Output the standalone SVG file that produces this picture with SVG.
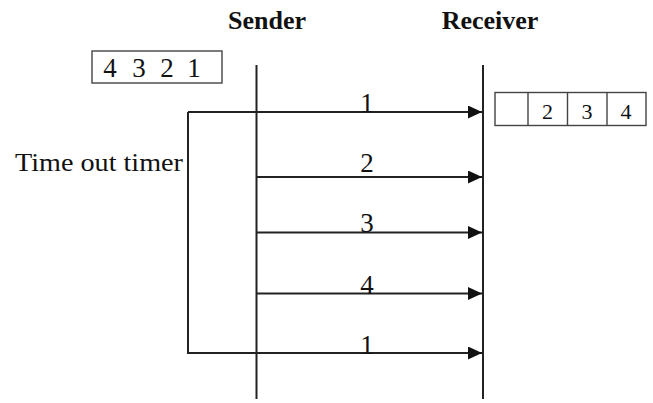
<svg xmlns="http://www.w3.org/2000/svg" width="653" height="403" viewBox="0 0 653 403">
<style>
text{font-family:"Liberation Serif","Times New Roman",serif;fill:#111}
.h{font-weight:bold;font-size:26px}
.n{font-size:27px;text-anchor:middle}
.line{stroke:#222;stroke-width:2;fill:none}
.box{stroke:#444;stroke-width:1.4;fill:#fff}
</style>
<defs>
<marker id="ah" markerWidth="14" markerHeight="13" refX="14" refY="6.5" orient="auto" markerUnits="userSpaceOnUse">
<path d="M0,0 L14,6.5 L0,13 Z" fill="#111"/>
</marker>
</defs>
<g id="sender">
<text class="h" x="267" y="29" text-anchor="middle">Sender</text>
<line class="line" x1="256.5" y1="65" x2="256.5" y2="399"/>
</g>
<g id="receiver">
<text class="h" x="490" y="29" text-anchor="middle">Receiver</text>
<line class="line" x1="483" y1="65" x2="483" y2="399"/>
</g>
<g id="sender-buffer">
<rect class="box" x="92" y="51" width="130" height="32"/>
<text class="n" x="110" y="77">4</text>
<text class="n" x="139" y="77">3</text>
<text class="n" x="167" y="77">2</text>
<text class="n" x="194" y="77">1</text>
</g>
<g id="receiver-buffer">
<rect class="box" x="495" y="92.5" width="151" height="33"/>
<line class="box" x1="528" y1="92.5" x2="528" y2="125.5"/>
<line class="box" x1="567.5" y1="92.5" x2="567.5" y2="125.5"/>
<line class="box" x1="607" y1="92.5" x2="607" y2="125.5"/>
<text class="n" x="547.5" y="119" style="font-size:22px">2</text>
<text class="n" x="587" y="119" style="font-size:22px">3</text>
<text class="n" x="626" y="119" style="font-size:22px">4</text>
</g>
<g id="timer">
<text x="15" y="171" style="font-size:26px" textLength="168" lengthAdjust="spacingAndGlyphs">Time out timer</text>
</g>
<g id="connectors">
<polyline class="line" points="188,112 188,353"/>
<line class="line" x1="188" y1="112" x2="482" y2="112" marker-end="url(#ah)"/>
<line class="line" x1="256.5" y1="177" x2="482" y2="177" marker-end="url(#ah)"/>
<line class="line" x1="256.5" y1="232.5" x2="482" y2="232.5" marker-end="url(#ah)"/>
<line class="line" x1="256.5" y1="293.5" x2="482" y2="293.5" marker-end="url(#ah)"/>
<line class="line" x1="187" y1="353" x2="482" y2="353" marker-end="url(#ah)"/>
<text class="n" x="367" y="111.5">1</text>
<text class="n" x="367" y="171.5">2</text>
<text class="n" x="367" y="232">3</text>
<text class="n" x="367" y="294">4</text>
<text class="n" x="367" y="354">1</text>
</g>
</svg>
